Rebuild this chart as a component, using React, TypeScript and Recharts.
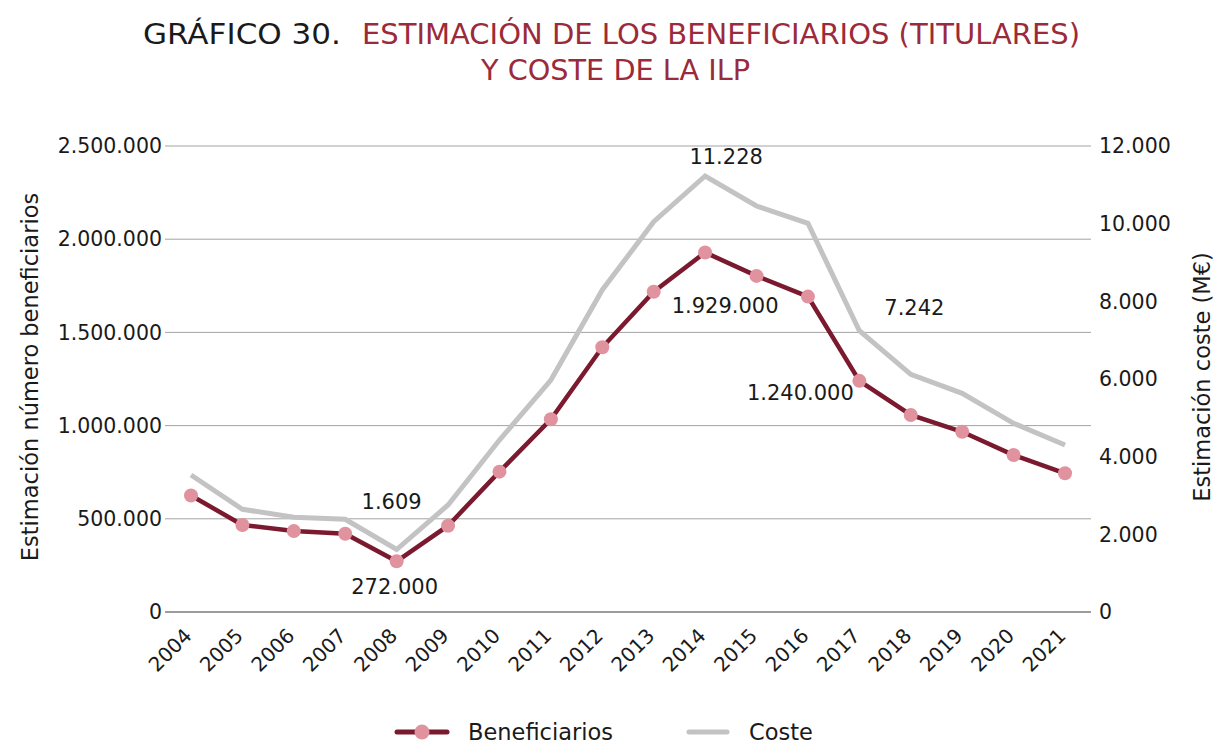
import React from 'react';
import { LineChart, Line, XAxis, YAxis, CartesianGrid, LabelList, Label } from 'recharts';

const years = [
  '2004', '2005', '2006', '2007', '2008', '2009', '2010', '2011', '2012',
  '2013', '2014', '2015', '2016', '2017', '2018', '2019', '2020', '2021',
];
const beneficiarios = [
  625000, 467000, 434000, 420000, 272000, 463000, 753000, 1034000, 1420000,
  1718000, 1929000, 1803000, 1692000, 1240000, 1057000, 967000, 842000, 744000,
];
const coste = [
  3528, 2645, 2439, 2387, 1609, 2755, 4429, 5974, 8292,
  10050, 11228, 10455, 10010, 7242, 6121, 5632, 4859, 4300,
];
const leftTicks = [0, 500000, 1000000, 1500000, 2000000, 2500000];
const rightTicks = [0, 2000, 4000, 6000, 8000, 10000, 12000];

const C = {
  maroon: '#7b1a2e',
  pink: '#e0939e',
  grey: '#c3c3c3',
  grid: '#a3a3a3',
  axis: '#8a8a8a',
  text: '#1a1a1a',
  title: '#9b2a3a',
};
const FONT = '"Century Gothic", "DejaVu Sans", sans-serif';

// where each value label sits relative to its point [dx, dy]
const BEN_LABELS: Record<string, [number, number]> = {
  '2008': [-2, 26],
  '2014': [20, 54],
  '2017': [-59, 12],
};
const COSTE_LABELS: Record<string, [number, number]> = {
  '2008': [-5, -48],
  '2014': [21, -19],
  '2017': [55, -23],
};

const fmt = (v: number) => String(Math.round(v)).replace(/\B(?=(\d{3})+(?!\d))/g, '.');

const data = years.map((year, i) => ({ year, beneficiarios: beneficiarios[i], coste: coste[i] }));

function valueLabel(offsets: Record<string, [number, number]>) {
  return (props: any) => {
    const { x, y, value, index } = props;
    const off = offsets[years[index]];
    if (!off) return null;
    return (
      <text
        x={x + off[0]}
        y={y + off[1]}
        textAnchor="middle"
        dominantBaseline="central"
        fill={C.text}
        fontSize={21}
        fontFamily={FONT}
      >
        {fmt(value)}
      </text>
    );
  };
}

function YearTick({ x, y, payload }: any) {
  const px = x - 3;
  const py = y + 20;
  return (
    <text
      x={px}
      y={py}
      transform={`rotate(-45 ${px} ${py})`}
      textAnchor="end"
      dominantBaseline="central"
      fill={C.text}
      fontSize={20}
      fontFamily={FONT}
    >
      {payload.value}
    </text>
  );
}

function AxisTitle({ viewBox, value, dx }: any) {
  const cx = viewBox.x + dx;
  const cy = viewBox.y + viewBox.height / 2 - 2;
  return (
    <text
      x={cx}
      y={cy}
      transform={`rotate(-90 ${cx} ${cy})`}
      textAnchor="middle"
      dominantBaseline="central"
      fill={C.text}
      fontSize={22.5}
      fontFamily={FONT}
    >
      {value}
    </text>
  );
}

export default function App() {
  const tickStyle = { fill: C.text, fontSize: 20.5, fontFamily: FONT };
  return (
    <div style={{ position: 'absolute', left: 0, top: 0, width: 1215, height: 743, background: '#fff' }}>
      <svg width={1215} height={100} style={{ position: 'absolute', left: 0, top: 0 }}>
        <text x={143} y={44} fontSize={29} fontFamily={FONT} fill={C.text} textLength={198} lengthAdjust="spacingAndGlyphs">
          GRÁFICO 30.
        </text>
        <text x={362} y={44} fontSize={29} fontFamily={FONT} fill={C.title} textLength={718} lengthAdjust="spacingAndGlyphs">
          ESTIMACIÓN DE LOS BENEFICIARIOS (TITULARES)
        </text>
        <text x={481} y={80} fontSize={29} fontFamily={FONT} fill={C.title} textLength={269} lengthAdjust="spacingAndGlyphs">
          Y COSTE DE LA ILP
        </text>
      </svg>

      <div style={{ position: 'absolute', left: 0, top: 0 }}>
        <LineChart width={1215} height={743} data={data} margin={{ top: 146, right: 24, bottom: 71, left: 65 }}>
          <CartesianGrid yAxisId="left" horizontal vertical={false} stroke={C.grid} strokeWidth={1} />
          <XAxis
            dataKey="year"
            padding={{ left: 26, right: 26 }}
            height={60}
            tickLine={false}
            tickSize={0}
            tickMargin={0}
            interval={0}
            axisLine={{ stroke: C.axis, strokeWidth: 1.5 }}
            tick={<YearTick />}
          />
          <YAxis
            yAxisId="left"
            width={100}
            domain={[0, 2500000]}
            ticks={leftTicks}
            tickFormatter={fmt}
            axisLine={false}
            tickLine={false}
            tickSize={0}
            tickMargin={3}
            tick={tickStyle}
          >
            <Label content={(p: any) => <AxisTitle {...p} value="Estimación número beneficiarios" dx={-35} />} />
          </YAxis>
          <YAxis
            yAxisId="right"
            orientation="right"
            width={100}
            domain={[0, 12000]}
            ticks={rightTicks}
            tickFormatter={fmt}
            axisLine={false}
            tickLine={false}
            tickSize={0}
            tickMargin={8}
            tick={{ ...tickStyle, textAnchor: 'start' }}
          >
            <Label content={(p: any) => <AxisTitle {...p} value="Estimación coste (M€)" dx={111} />} />
          </YAxis>
          <Line
            yAxisId="right"
            dataKey="coste"
            name="Coste"
            type="linear"
            stroke={C.grey}
            strokeWidth={5}
            dot={false}
            activeDot={false}
            isAnimationActive={false}
          >
            <LabelList dataKey="coste" content={valueLabel(COSTE_LABELS)} />
          </Line>
          <Line
            yAxisId="left"
            dataKey="beneficiarios"
            name="Beneficiarios"
            type="linear"
            stroke={C.maroon}
            strokeWidth={4.5}
            dot={{ r: 7, fill: C.pink, stroke: 'none' }}
            activeDot={false}
            isAnimationActive={false}
          >
            <LabelList dataKey="beneficiarios" content={valueLabel(BEN_LABELS)} />
          </Line>
        </LineChart>
      </div>

      <svg width={1215} height={40} style={{ position: 'absolute', left: 0, top: 712 }}>
        <line x1={397} x2={447} y1={20} y2={20} stroke={C.maroon} strokeWidth={5} strokeLinecap="round" />
        <circle cx={422} cy={20} r={7.5} fill={C.pink} />
        <text x={468} y={20} dominantBaseline="central" fontSize={22.5} fontFamily={FONT} fill={C.text}>
          Beneficiarios
        </text>
        <line x1={689} x2={727} y1={20} y2={20} stroke={C.grey} strokeWidth={5} strokeLinecap="round" />
        <text x={749} y={20} dominantBaseline="central" fontSize={22.5} fontFamily={FONT} fill={C.text}>
          Coste
        </text>
      </svg>
    </div>
  );
}
